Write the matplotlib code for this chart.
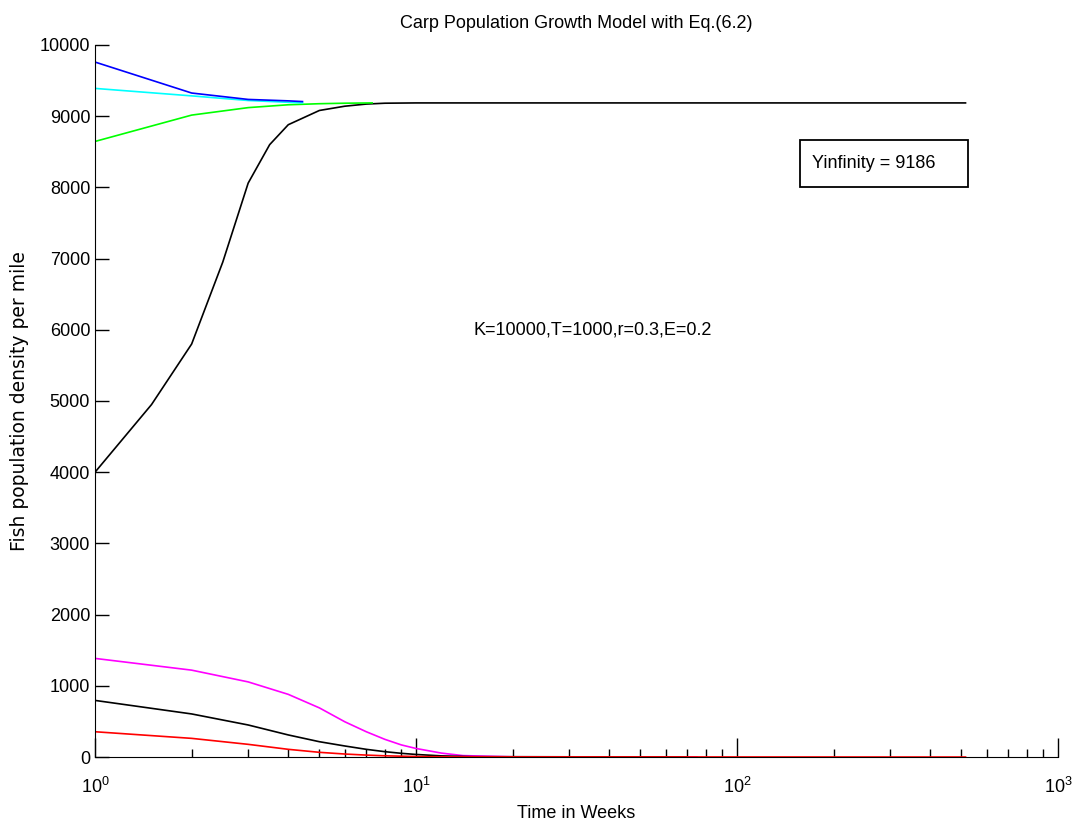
import matplotlib.pyplot as plt
from matplotlib.patches import Rectangle

plt.rcParams['font.family'] = ['Liberation Sans', 'DejaVu Sans']
plt.rcParams['mathtext.default'] = 'regular'

# -- data (time in weeks, density per mile) --
blue_t = [1, 2, 3, 4, 4.43]
blue_y = [9760, 9325, 9235, 9215, 9205]

cyan_t = [1, 2, 3, 4, 4.43]
cyan_y = [9390, 9285, 9220, 9195, 9188]

green_t = [1, 2, 3, 4, 5, 6, 7.3]
green_y = [8645, 9015, 9120, 9160, 9175, 9182, 9186]

black_hi_t = [1, 1.5, 2, 2.5, 3, 3.5, 4, 5, 6, 7, 8, 10, 515]
black_hi_y = [4000, 4950, 5800, 6950, 8060, 8600, 8880, 9080, 9140, 9170, 9182, 9186, 9186]

magenta_t = [1, 2, 3, 4, 5, 6, 7, 8, 9, 10, 12, 14, 20, 75]
magenta_y = [1385, 1220, 1055, 880, 690, 495, 355, 248, 170, 120, 55, 20, 3, 0]

black_lo_t = [1, 2, 3, 4, 5, 6, 7, 8, 9, 10, 12, 15, 70]
black_lo_y = [795, 605, 450, 310, 215, 155, 108, 75, 52, 36, 16, 5, 0]

red_t = [1, 2, 3, 4, 5, 6, 7, 8, 10, 13, 515]
red_y = [355, 262, 178, 108, 66, 42, 27, 17, 7, 2, 0]

fig = plt.figure(figsize=(10.76, 8.25), dpi=100)
ax = fig.add_axes([0.0883, 0.0824, 0.895, 0.8631])

ax.plot(black_hi_t, black_hi_y, color='black', lw=1.2)
ax.plot(green_t, green_y, color='#00ff00', lw=1.2)
ax.plot(cyan_t, cyan_y, color='#00ffff', lw=1.2)
ax.plot(blue_t, blue_y, color='#0000ff', lw=1.2)
ax.plot(magenta_t, magenta_y, color='#ff00ff', lw=1.2)
ax.plot(black_lo_t, black_lo_y, color='black', lw=1.2)
ax.plot(red_t, red_y, color='#ff0000', lw=1.2)

ax.set_xscale('log')
ax.set_xlim(1, 1000)
ax.set_ylim(0, 10000)
ax.set_yticks(range(0, 10001, 1000))

for s in ['top', 'right']:
    ax.spines[s].set_visible(False)

ax.tick_params(which='major', direction='in', length=10, width=1, labelsize=13)
ax.tick_params(which='minor', direction='in', length=6, width=1)
ax.tick_params(axis='x', which='major', length=14, pad=14)

ax.set_title('Carp Population Growth Model with Eq.(6.2)', fontsize=13, pad=12)
ax.set_xlabel('Time in Weeks', fontsize=13, labelpad=6)
ax.set_ylabel('Fish population density per mile', fontsize=13.5,
              family='DejaVu Sans', labelpad=8)

ax.text(35.4, 6000, 'K=10000,T=1000,r=0.3,E=0.2', fontsize=13,
        ha='center', va='center')

# result box
ax.add_patch(Rectangle((0.732, 0.8006), 0.174, 0.066, transform=ax.transAxes,
                       fc='white', ec='black', lw=1.3))
ax.text(0.7445, 0.8336, 'Yinfinity = 9186', transform=ax.transAxes, fontsize=13,
        ha='left', va='center')

plt.savefig('out.png')
